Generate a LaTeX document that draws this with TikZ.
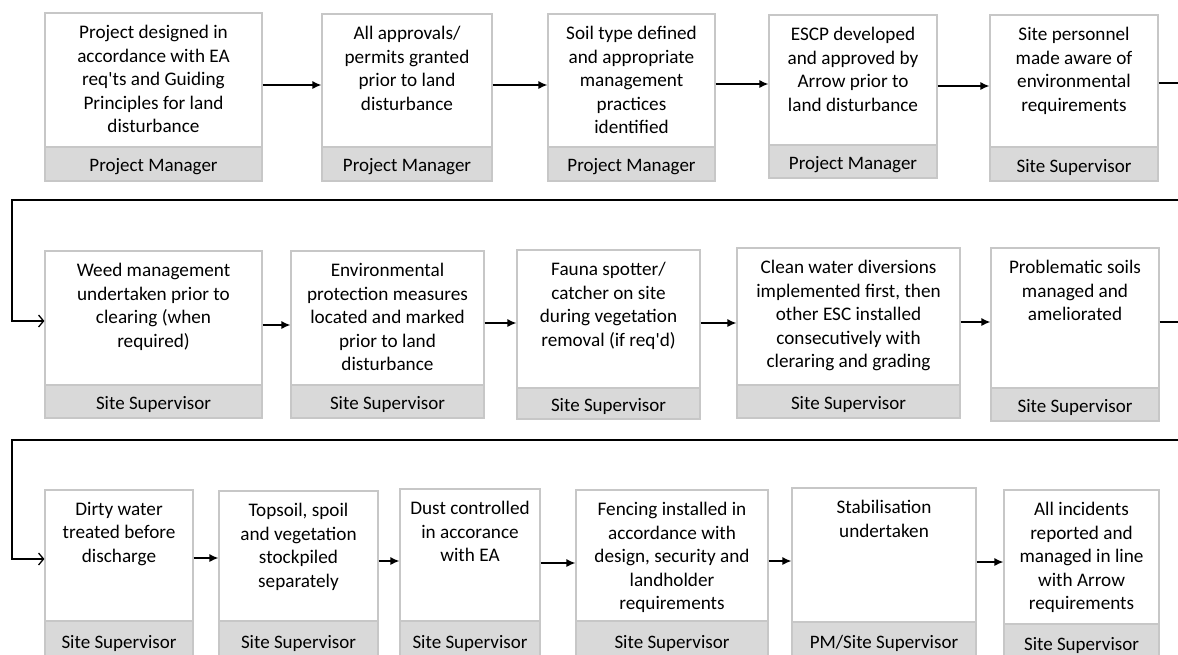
\documentclass[tikz,border=0pt]{standalone}
\usepackage{fontspec}
\setmainfont{Carlito}[Ligatures=TeXOff]
\usetikzlibrary{arrows.meta}

\begin{document}
\begin{tikzpicture}[x=1pt,y=-1pt]
  \tikzstyle{stepbox}=[draw=black!22,line width=1.2pt,fill=white,inner sep=0pt]
  \tikzstyle{rolebox}=[draw=black!22,line width=1.2pt,fill=black!15,inner sep=0pt]
  \tikzstyle{roletext}=[inner sep=0pt,font=\fontsize{19}{20}\selectfont]
  \tikzstyle{steptext}=[anchor=north,align=center,inner sep=0pt,font=\fontsize{19.2}{23.5}\selectfont]
  \tikzstyle{flow}=[line width=1.3pt,-{Latex[length=9pt,width=8pt]}]
  \tikzstyle{wrap}=[line width=1.3pt,-{Straight Barb[length=5pt,width=12pt]}]

  \clip (0,0) rectangle (1178,654);
  \fill[white] (0,0) rectangle (1178,654);

  % boxes: name / left / top / right / bottom / top of role band / text / role
  \foreach \name/\xa/\ya/\xb/\yb/\yg/\txt/\role in {
    1/45/13/262/181/147/{Project designed in\\accordance with EA\\req'ts and Guiding\\Principles for land\\disturbance}/{Project Manager},
    2/322/14/492/181/147/{All approvals/\\permits granted\\prior to land\\disturbance}/{Project Manager},
    3/548/14/715/181/147/{Soil type defined\\and appropriate\\management\\practices\\identified}/{Project Manager},
    4/769/15/937/178/145/{ESCP developed\\and approved by\\Arrow prior to\\land disturbance}/{Project Manager},
    5/990/15/1158/181/147/{Site personnel\\made aware of\\environmental\\requirements}/{Site Supervisor},
    6/45/251/262/418/385/{Weed management\\undertaken prior to\\clearing (when\\required)}/{Site Supervisor},
    7/291/251/484/418/385/{Environmental\\protection measures\\located and marked\\prior to land\\disturbance}/{Site Supervisor},
    8/517/250/700/419/388/{Fauna spotter/\\catcher on site\\during vegetation\\removal (if req'd)}/{Site Supervisor},
    9/737/248/960/418/385/{Clean water diversions\\implemented first, then\\other ESC installed\\consecutively with\\cleraring and grading}/{Site Supervisor},
    10/991/248/1159/421/388/{Problematic soils\\managed and\\ameliorated}/{Site Supervisor},
    11/45/490/193/659/621/{Dirty water\\treated before\\discharge}/{Site Supervisor},
    12/219/491/378/659/621/{Topsoil, spoil\\and vegetation\\stockpiled\\separately}/{Site Supervisor},
    13/400/489/540/659/621/{Dust controlled\\in accorance\\with EA}/{Site Supervisor},
    14/576/490/768/659/621/{Fencing installed in\\accordance with\\design, security and\\landholder\\requirements}/{Site Supervisor},
    15/792/488/976/659/622/{Stabilisation\\undertaken}/{PM/Site Supervisor},
    16/1004/490/1159/661/624/{All incidents\\reported and\\managed in line\\with Arrow\\requirements}/{Site Supervisor}}
  {
    \node[stepbox,minimum width={(\xb-\xa)*1pt},minimum height={(\yb-\ya)*1pt}] (B-\name) at ({(\xa+\xb)/2},{(\ya+\yb)/2}) {};
    \node[rolebox,minimum width={(\xb-\xa)*1pt},minimum height={(\yb-\yg)*1pt}] (R-\name) at ({(\xa+\xb)/2},{(\yg+\yb)/2}) {};
    \node[roletext] (L-\name) at ({(\xa+\xb)/2},{(\yg+\yb)/2+3}) {\role};
    \node[steptext] (T-\name) at ({(\xa+\xb)/2},{\ya+12}) {\txt};
  }

  \foreach \a/\b/\y in {1/2/85,2/3/85,3/4/84,4/5/86,6/7/325,7/8/323,8/9/323,9/10/322,11/12/558,12/13/561,13/14/563,14/15/561,15/16/562}
    \draw[flow] (B-\a.east |- 0,\y) -- (B-\b.west |- 0,\y);

  % row to row
  \coordinate (turn1) at (12,200);
  \coordinate (turn2) at (12,440);
  \draw[wrap] (B-5.east |- 0,83) -- (1195,83) -- (1195,200) -- (turn1) -- (12,321) -- (B-6.west |- 0,321);
  \draw[wrap] (B-10.east |- 0,322) -- (1195,322) -- (1195,440) -- (turn2) -- (12,559) -- (B-11.west |- 0,559);
\end{tikzpicture}
\end{document}
